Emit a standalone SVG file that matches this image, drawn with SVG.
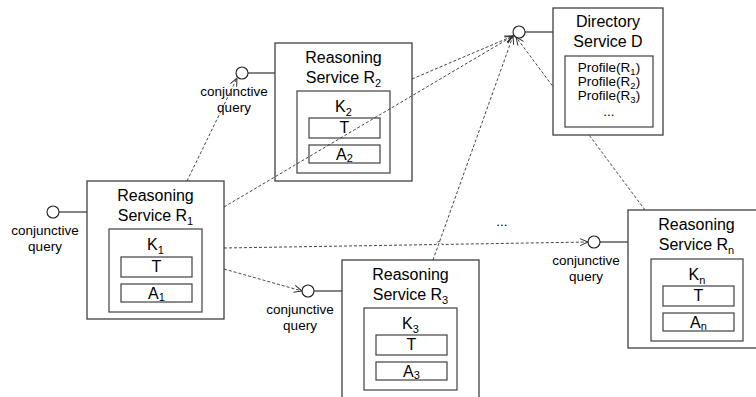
<svg xmlns="http://www.w3.org/2000/svg" width="756" height="397" viewBox="0 0 756 397">
  <defs>
    <style>
      .box { fill: #ffffff; stroke: #404040; stroke-width: 1.3; }
      .inner { fill: #ffffff; stroke: #404040; stroke-width: 1.2; }
      .port { fill: #ffffff; stroke: #202020; stroke-width: 1.1; }
      .stub { stroke: #202020; stroke-width: 1.1; fill: none; }
      .flow { stroke: #303030; stroke-width: 0.9; fill: none; stroke-dasharray: 3 2; marker-end: url(#open); }
      .t { font-family: "Liberation Sans", Arial, sans-serif; font-size: 16px; fill: #000; text-anchor: middle; }
      .s { font-family: "Liberation Sans", Arial, sans-serif; font-size: 13.5px; fill: #000; text-anchor: middle; }
      .sub { font-size: 11px; }
      .psub { font-size: 9.5px; }
    </style>
    <marker id="open" markerUnits="userSpaceOnUse" markerWidth="12" markerHeight="12" viewBox="-10 -6 12 12" refX="0" refY="0" orient="auto">
      <path d="M-8,-3.5 L0,0 L-8,3.5" fill="none" stroke="#303030" stroke-width="1"/>
    </marker>
  </defs>

  <!-- Reasoning Service R1 -->
  <g id="r1">
    <line class="stub" x1="59" y1="212" x2="87" y2="212"/>
    <circle class="port" cx="53" cy="212" r="6"/>
    <text class="s" x="45" y="235">conjunctive</text>
    <text class="s" x="45" y="251">query</text>
    <rect class="box" x="87" y="181" width="137" height="138"/>
    <text class="t" x="155.5" y="201">Reasoning</text>
    <text class="t" x="155.5" y="221">Service R<tspan class="sub" dy="4">1</tspan></text>
    <rect class="inner" x="109" y="229" width="93" height="83"/>
    <text class="t" x="155.5" y="250">K<tspan class="sub" dy="4">1</tspan></text>
    <rect class="inner" x="121" y="257" width="71" height="20"/>
    <text class="t" x="156.5" y="272">T</text>
    <rect class="inner" x="121" y="284" width="71" height="18"/>
    <text class="t" x="156.5" y="299">A<tspan class="sub" dy="2">1</tspan></text>
  </g>

  <!-- Reasoning Service R2 -->
  <g id="r2">
    <line class="stub" x1="248" y1="73" x2="275" y2="73"/>
    <circle class="port" cx="242" cy="73" r="6"/>
    <text class="s" x="234" y="96">conjunctive</text>
    <text class="s" x="234" y="112">query</text>
    <rect class="box" x="275" y="43" width="137" height="138"/>
    <text class="t" x="343.5" y="63">Reasoning</text>
    <text class="t" x="343.5" y="83">Service R<tspan class="sub" dy="4">2</tspan></text>
    <rect class="inner" x="297" y="91" width="93" height="82"/>
    <text class="t" x="343.5" y="112">K<tspan class="sub" dy="4">2</tspan></text>
    <rect class="inner" x="309" y="118" width="71" height="20"/>
    <text class="t" x="344.5" y="133">T</text>
    <rect class="inner" x="309" y="145" width="71" height="18"/>
    <text class="t" x="344.5" y="160">A<tspan class="sub" dy="2">2</tspan></text>
  </g>

  <!-- Reasoning Service R3 -->
  <g id="r3">
    <line class="stub" x1="314" y1="291" x2="342" y2="291"/>
    <circle class="port" cx="308" cy="291" r="6"/>
    <text class="s" x="300" y="314">conjunctive</text>
    <text class="s" x="300" y="330">query</text>
    <rect class="box" x="342" y="260" width="137" height="138"/>
    <text class="t" x="410.5" y="280">Reasoning</text>
    <text class="t" x="410.5" y="300">Service R<tspan class="sub" dy="4">3</tspan></text>
    <rect class="inner" x="364" y="308" width="93" height="82"/>
    <text class="t" x="410.5" y="329">K<tspan class="sub" dy="4">3</tspan></text>
    <rect class="inner" x="376" y="335" width="71" height="20"/>
    <text class="t" x="411.5" y="350">T</text>
    <rect class="inner" x="376" y="362" width="71" height="18"/>
    <text class="t" x="411.5" y="377">A<tspan class="sub" dy="2">3</tspan></text>
  </g>

  <!-- Reasoning Service Rn -->
  <g id="rn">
    <line class="stub" x1="600" y1="242" x2="628" y2="242"/>
    <circle class="port" cx="594" cy="242" r="6"/>
    <text class="s" x="586" y="265">conjunctive</text>
    <text class="s" x="586" y="281">query</text>
    <rect class="box" x="628" y="210" width="137" height="138"/>
    <text class="t" x="696.5" y="230">Reasoning</text>
    <text class="t" x="696.5" y="250">Service R<tspan class="sub" dy="4">n</tspan></text>
    <rect class="inner" x="651" y="259" width="92" height="82"/>
    <text class="t" x="697" y="280">K<tspan class="sub" dy="4">n</tspan></text>
    <rect class="inner" x="663" y="286" width="71" height="20"/>
    <text class="t" x="698.5" y="301">T</text>
    <rect class="inner" x="663" y="313" width="71" height="18"/>
    <text class="t" x="698.5" y="328">A<tspan class="sub" dy="2">n</tspan></text>
  </g>

  <!-- dashed request connectors (drawn over the service boxes they cross) -->
  <g id="connectors">
    <path class="flow" d="M187,181 L237,78"/>
    <path class="flow" d="M224,207 L513,36"/>
    <path class="flow" d="M412,79 L513,36"/>
    <path class="flow" d="M433,260 L513,36"/>
    <path class="flow" d="M645,210 L516,37"/>
    <path class="flow" d="M224,269 L302,291"/>
    <path class="flow" d="M224,248 L436,244.55 A3,3 0 0 1 442,244.45 L588,242"/>
  </g>

  <!-- Directory Service D (sits on top of the connector from Rn) -->
  <g id="directory">
    <line class="stub" x1="525" y1="32" x2="553" y2="32"/>
    <circle class="port" cx="519" cy="32" r="6"/>
    <rect class="box" x="553" y="8" width="110" height="127"/>
    <text class="t" x="608" y="27">Directory</text>
    <text class="t" x="608" y="47">Service D</text>
    <rect class="inner" x="565" y="56" width="88" height="71"/>
    <text class="s" x="609" y="72">Profile(R<tspan class="psub" dy="3">1</tspan><tspan dy="-3">)</tspan></text>
    <text class="s" x="609" y="86">Profile(R<tspan class="psub" dy="3">2</tspan><tspan dy="-3">)</tspan></text>
    <text class="s" x="609" y="100">Profile(R<tspan class="psub" dy="3">3</tspan><tspan dy="-3">)</tspan></text>
    <text class="s" x="609" y="116">...</text>
  </g>

  <!-- ellipsis for further services -->
  <g id="more">
    <text class="s" x="502" y="226">...</text>
  </g>
</svg>
